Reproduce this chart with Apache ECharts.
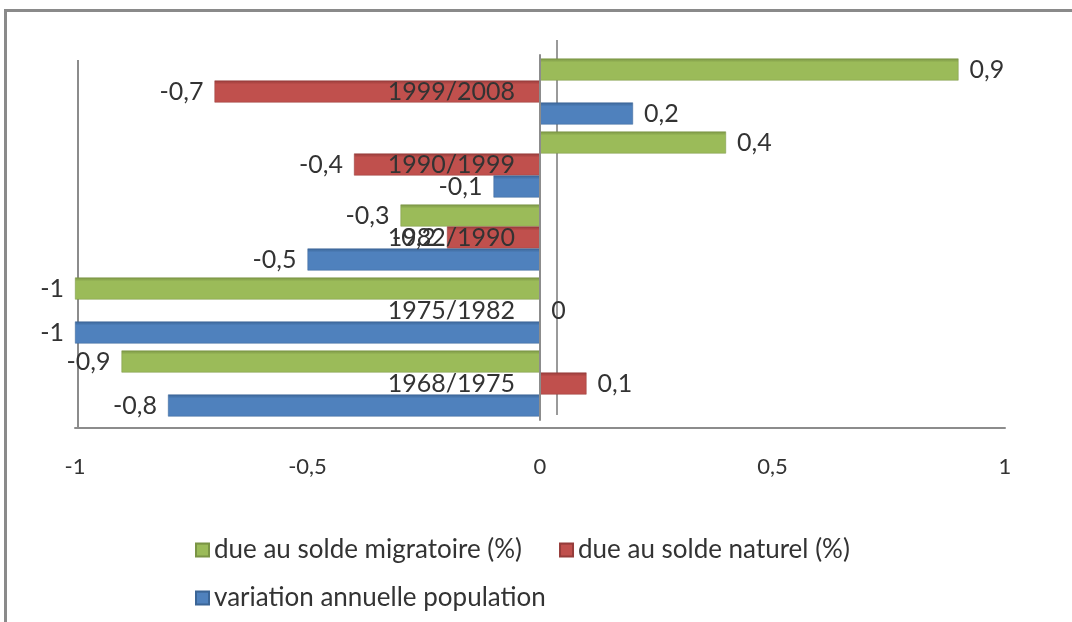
<!DOCTYPE html>
<html>
<head>
<meta charset="utf-8">
<script src="https://cdn.jsdelivr.net/npm/echarts@6/dist/echarts.min.js"></script>
<style>
  html, body { margin: 0; padding: 0; background: #fff; }
  #wrap { position: absolute; left: 4px; top: 9px; width: 1068px; height: 613px;
          border-top: 3px solid #8a8a8a; border-left: 3px solid #8a8a8a; box-sizing: border-box; }
  #chart { position: absolute; left: 0; top: 0; width: 1072px; height: 622px; }
</style>
</head>
<body>
<div id="wrap"></div>
<div id="chart"></div>
<script>
const periods = ['1968/1975', '1975/1982', '1982/1990', '1990/1999', '1999/2008'];
const variationAnnuelle = [-0.8, -1, -0.5, -0.1, 0.2];
const soldeNaturel = [0.1, 0, -0.2, -0.4, -0.7];
const soldeMigratoire = [-0.9, -1, -0.3, 0.4, 0.9];
const xTicks = [-1, -0.5, 0, 0.5, 1];

const fr = v => String(v).replace('.', ',');
const font = 'Lato, "Open Sans", sans-serif';

// plot box (pixels)
const gridLeft = 75, gridRight = 67;
const plotWidth = 1072 - gridLeft - gridRight;

function items(values) {
    return values.map(v => ({
        value: v,
        label: { position: v < 0 ? 'left' : 'right' }
    }));
}

function barSeries(name, values, color, dark) {
    return {
        name: name,
        type: 'bar',
        barWidth: 22,
        barGap: '0%',
        z: 2,
        data: items(values),
        itemStyle: {
            color: new echarts.graphic.LinearGradient(0, 0, 0, 1, [
                { offset: 0, color: dark },
                { offset: 0.18, color: color },
                { offset: 1, color: color }
            ]),
            borderColor: dark,
            borderWidth: 0.5
        },
        label: {
            show: true,
            distance: 11,
            fontSize: 25,
            fontFamily: font,
            color: '#333',
            formatter: p => fr(p.value)
        }
    };
}

const chart = echarts.init(document.getElementById('chart'));
const option = {
    animation: false,
    textStyle: { fontFamily: font },
    grid: { left: gridLeft, right: gridRight, top: 55, bottom: 202, outerBoundsMode: 'none', containLabel: false },
    xAxis: {
        type: 'value',
        min: -1,
        max: 1,
        interval: 0.5,
        offset: 8,
        axisLine: { show: true, lineStyle: { color: '#8c8c8c', width: 2 } },
        axisTick: { show: false },
        splitLine: { show: false },
        axisLabel: {
            margin: 28,
            fontSize: 22,
            color: '#333',
            fontFamily: font,
            formatter: v => xTicks.includes(v) ? fr(v) : ''
        }
    },
    yAxis: {
        type: 'category',
        data: periods,
        position: 'left',
        offset: -plotWidth / 2,
        z: 6,
        axisLine: { show: true, onZero: false, lineStyle: { color: '#8c8c8c', width: 2 } },
        axisTick: { show: false },
        axisLabel: { margin: 25, fontSize: 25, color: '#333', fontFamily: font }
    },
    legend: [{
        data: ['due au solde migratoire (%)', 'due au solde naturel (%)'],
        left: 190,
        top: 532,
        itemWidth: 13,
        itemHeight: 13,
        itemGap: 37,
        icon: 'rect',
        textStyle: { fontSize: 26, color: '#333', fontFamily: font }
    }, {
        data: ['variation annuelle population'],
        left: 190,
        top: 580,
        itemWidth: 13,
        itemHeight: 13,
        icon: 'rect',
        textStyle: { fontSize: 26, color: '#333', fontFamily: font }
    }],
    series: [
        barSeries('due au solde migratoire (%)', soldeMigratoire, '#9BBB59', '#7a9445'),
        barSeries('due au solde naturel (%)', soldeNaturel, '#C0504D', '#963c3a'),
        barSeries('variation annuelle population', variationAnnuelle, '#4F81BD', '#3b6596')
    ]
};
chart.setOption(option);

// walls of the 3D look: left side wall and the back line behind zero
const zx = chart.convertToPixel({ xAxisIndex: 0 }, 0);
const lx = chart.convertToPixel({ xAxisIndex: 0 }, -1);
chart.setOption({
    graphic: [{
        type: 'line',
        z: 0,
        shape: { x1: zx + 17, y1: 40, x2: zx + 17, y2: 415 },
        style: { stroke: '#9a9a9a', lineWidth: 2 }
    }, {
        type: 'line',
        z: 0,
        shape: { x1: lx + 3, y1: 60, x2: lx + 3, y2: 428 },
        style: { stroke: '#8c8c8c', lineWidth: 2 }
    }]
});
</script>
</body>
</html>
